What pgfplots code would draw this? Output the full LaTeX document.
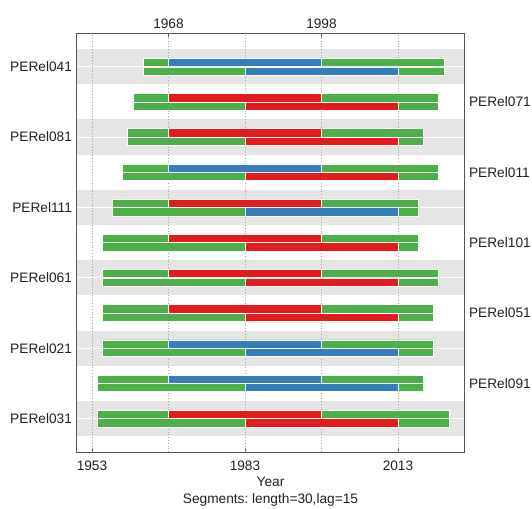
\documentclass[border=0pt]{standalone}
\usepackage{pgfplots}
\pgfplotsset{compat=1.18}
\usepackage{pgfplotstable}
\usepackage{fontspec}
\setmainfont{Liberation Sans}
\definecolor{sgreen}{HTML}{4DAF4A}
\definecolor{sred}{HTML}{E41A1C}
\definecolor{sblue}{HTML}{377EB8}
\definecolor{band}{HTML}{E5E5E5}
\definecolor{frame}{HTML}{555555}
\definecolor{txt}{HTML}{222222}

% y = row position (upper bar +0.12, lower bar -0.12)
% s = first year, g1 = green before, r = red, b = blue, g2 = green after
\pgfplotstableread{
y     s    g1 r  b  g2
11.12 1963 5  0  30 24
10.12 1961 7  30 0  23
9.12  1960 8  30 0  20
8.12  1959 9  0  30 23
7.12  1957 11 30 0  19
6.12  1955 13 30 0  19
5.12  1955 13 30 0  23
4.12  1955 13 30 0  22
3.12  1955 13 0  30 22
2.12  1954 14 0  30 20
1.12  1954 14 30 0  25
10.88 1963 20 0  30 9
9.88  1961 22 30 0  8
8.88  1960 23 30 0  5
7.88  1959 24 30 0  8
6.88  1957 26 0  30 4
5.88  1955 28 30 0  4
4.88  1955 28 30 0  8
3.88  1955 28 30 0  7
2.88  1955 28 0  30 7
1.88  1954 29 0  30 5
0.88  1954 29 30 0  10
}\segs

\pgfplotsset{
  base/.style={
    scale only axis, width=387.6bp, height=418.7bp,
    at={(76.7bp,57bp)}, anchor=south west,
    xmin=1950, xmax=2026, ymin=0.05, ymax=11.95,
    /pgf/number format/assume math mode=true,
    /pgf/number format/1000 sep={},
    axis line style={frame, line width=0.9bp},
    tick align=inside, major tick length=4bp,
    xtick style={frame, line width=0.9bp},
    ytick style={draw=none},
    tick label style={text=txt},
  }
}

\begin{document}
\frenchspacing
\fontsize{13.7bp}{16.3bp}\selectfont
\begin{tikzpicture}
\path[use as bounding box] (0,0) rectangle (532bp,509bp);

% background axis: bands, grid, bottom ticks, left labels
\begin{axis}[base,
  xtick={1953,1983,2013}, xtick pos=left, xticklabel pos=left,
  xticklabel style={yshift=-4.5bp},
  ytick={1,3,5,7,9,11}, ytick pos=left, yticklabel pos=left,
  yticklabels={PERel031,PERel021,PERel061,PERel111,PERel081,PERel041},
  xlabel={Year\\Segments: length=30,lag=15},
  xlabel style={align=center, text=txt, yshift=3bp},
]
\addplot[fill=band, draw=none] coordinates {(1950,10.5) (2026,10.5) (2026,11.5) (1950,11.5)} -- cycle;
\addplot[fill=band, draw=none] coordinates {(1950,8.5) (2026,8.5) (2026,9.5) (1950,9.5)} -- cycle;
\addplot[fill=band, draw=none] coordinates {(1950,6.5) (2026,6.5) (2026,7.5) (1950,7.5)} -- cycle;
\addplot[fill=band, draw=none] coordinates {(1950,4.5) (2026,4.5) (2026,5.5) (1950,5.5)} -- cycle;
\addplot[fill=band, draw=none] coordinates {(1950,2.5) (2026,2.5) (2026,3.5) (1950,3.5)} -- cycle;
\addplot[fill=band, draw=none] coordinates {(1950,0.5) (2026,0.5) (2026,1.5) (1950,1.5)} -- cycle;
\addplot[white, line width=1bp] coordinates {(1950,11) (2026,11)};
\addplot[white, line width=1bp] coordinates {(1950,9) (2026,9)};
\addplot[white, line width=1bp] coordinates {(1950,7) (2026,7)};
\addplot[white, line width=1bp] coordinates {(1950,5) (2026,5)};
\addplot[white, line width=1bp] coordinates {(1950,3) (2026,3)};
\addplot[white, line width=1bp] coordinates {(1950,1) (2026,1)};
\addplot[gray!70, dotted, line width=0.8bp] coordinates {(1953,0.05) (1953,11.95)};
\addplot[gray!70, dotted, line width=0.8bp] coordinates {(1968,0.05) (1968,11.95)};
\addplot[gray!70, dotted, line width=0.8bp] coordinates {(1983,0.05) (1983,11.95)};
\addplot[gray!70, dotted, line width=0.8bp] coordinates {(1998,0.05) (1998,11.95)};
\addplot[gray!70, dotted, line width=0.8bp] coordinates {(2013,0.05) (2013,11.95)};
\end{axis}

% bars
\begin{axis}[base, axis lines=none, xtick=\empty, ytick=\empty,
  xbar stacked, bar width=0.235, bar shift=0pt]
\addplot[draw=none, fill=none] table[x=s, y=y] {\segs};
\addplot[fill=sgreen, draw=white, line width=0.6bp] table[x=g1, y=y] {\segs};
\addplot[fill=sred, draw=white, line width=0.6bp] table[x=r, y=y] {\segs};
\addplot[fill=sblue, draw=white, line width=0.6bp] table[x=b, y=y] {\segs};
\addplot[fill=sgreen, draw=white, line width=0.6bp] table[x=g2, y=y] {\segs};
\end{axis}

% top ticks and right labels
\begin{axis}[base,
  xtick={1968,1998}, xtick pos=right, xticklabel pos=right,
  ytick={2,4,6,8,10}, ytick pos=right, yticklabel pos=right,
  yticklabels={PERel091,PERel051,PERel101,PERel011,PERel071},
]
\end{axis}
\end{tikzpicture}
\end{document}
